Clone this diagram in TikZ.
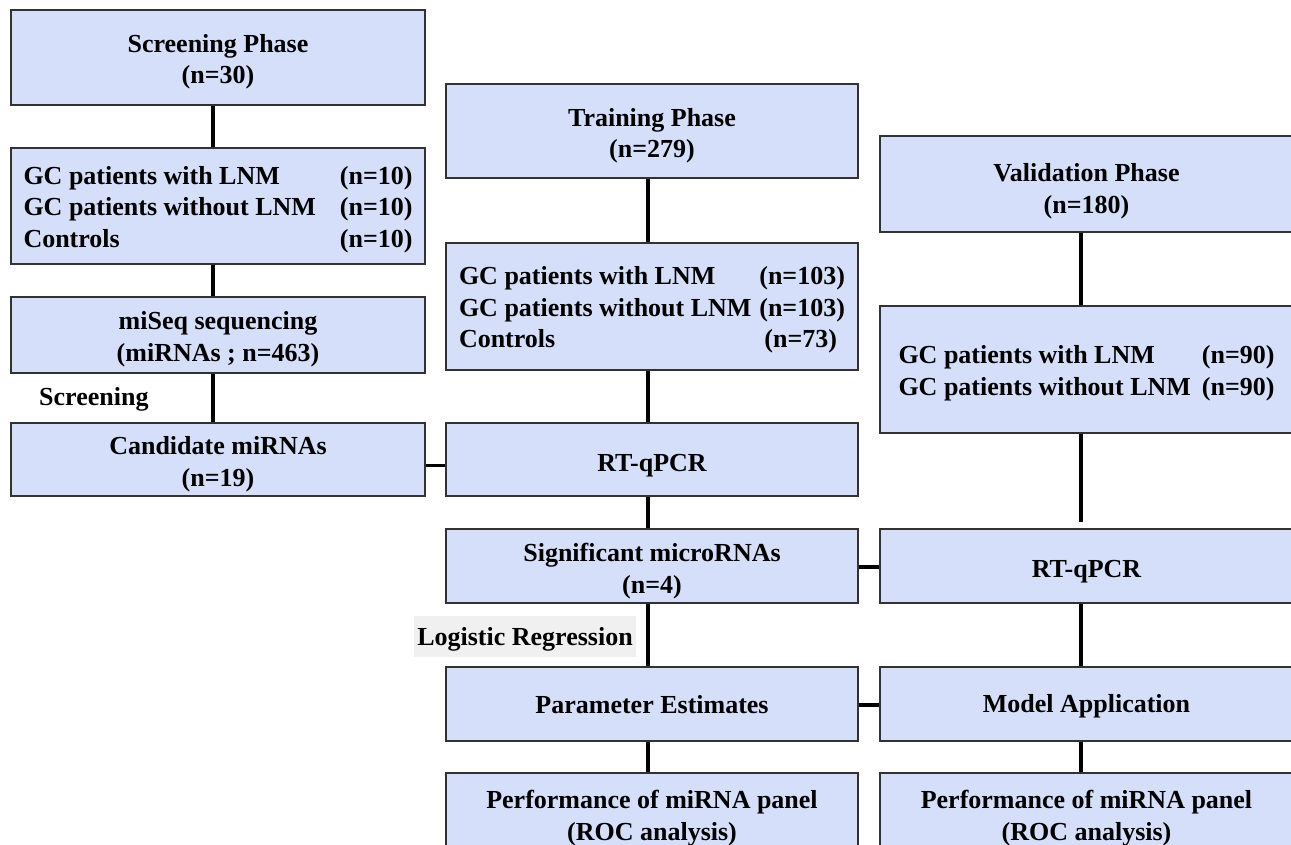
\documentclass[tikz,border=0pt]{standalone}
\usepackage{fontspec}
\setmainfont{Liberation Serif}
\definecolor{boxfill}{RGB}{213,223,250}
\definecolor{boxline}{RGB}{50,50,50}
\definecolor{labelbg}{RGB}{240,240,240}
\newcommand\lowertab[1]{\raisebox{-3.5pt}[\height][\depth]{#1}}
\newcommand\topstrut[1]{\rule{0pt}{#1}}
\begin{document}
\begin{tikzpicture}[x=1pt,y=-1pt,
  every node/.style={font=\fontsize{26}{31.5}\selectfont\bfseries},
  drop/.style={execute at begin node={\rule{0pt}{#1}}},
  stagebox/.style={draw=boxline,fill=boxfill,line width=1.3pt,inner sep=0pt,align=center,minimum width=#1},
  stagebox/.default=414pt,
  link/.style={line width=3.4pt,black},
  steplabel/.style={inner sep=0pt,anchor=west}]
\useasboundingbox (0,0) rectangle (1291,844);
\clip (0,0) rectangle (1291,844);
\fill[white] (0,0) rectangle (1291,844);
% Screening column
\node[stagebox=414pt,minimum height=95pt] (s1) at (218,57.5) {\topstrut{27pt}Screening Phase\\(n=30)};
\node[stagebox=414pt,minimum height=116pt] (s2) at (218,206) {\lowertab{\begin{tabular*}{389pt}{@{}l@{\extracolsep{\fill}}r@{}}GC patients with LNM & (n=10)\\GC patients without LNM & (n=10)\\Controls & (n=10)\end{tabular*}}};
\node[stagebox=414pt,minimum height=76pt] (s3) at (218,335) {\topstrut{27pt}miSeq sequencing\\(miRNAs ; n=463)};
\node[stagebox=414pt,minimum height=73pt] (s4) at (218,459.5) {\topstrut{27.5pt}Candidate miRNAs\\(n=19)};
\node[steplabel] (lscr) at (39,399.5) {Screening};
% Training column
\node[stagebox=412pt,minimum height=94pt] (t1) at (652,131) {\topstrut{27.5pt}Training Phase\\(n=279)};
\node[stagebox=412pt,minimum height=127pt] (t2) at (652,306.5) {\lowertab{\begin{tabular*}{386pt}{@{}l@{\extracolsep{\fill}}r@{}}GC patients with LNM & (n=103)\\GC patients without LNM & (n=103)\\Controls & (n=73)\hspace*{8pt}\end{tabular*}}};
\node[stagebox=412pt,minimum height=73pt,drop=29pt] (t3) at (652,459.5) {RT-qPCR};
\node[stagebox=412pt,minimum height=74pt] (t4) at (652,566) {\topstrut{28.5pt}Significant microRNAs\\(n=4)};
\node[fill=labelbg,inner xsep=3pt,inner ysep=0pt,minimum height=41pt,drop=24pt] (llog) at (525,636.5) {Logistic Regression};
\node[stagebox=412pt,minimum height=74pt,drop=20pt] (t5) at (652,704) {Parameter Estimates};
\node[stagebox=412pt,minimum height=86pt] (t6) at (652,816) {\topstrut{22.5pt}Performance of miRNA panel\\(ROC analysis)};
% Validation column
\node[stagebox=413pt,minimum height=96pt] (v1) at (1086.5,184) {\topstrut{33pt}Validation Phase\\(n=180)};
\node[stagebox=413pt,minimum height=127pt] (v2) at (1086.5,369.5) {\lowertab{\begin{tabular*}{376pt}{@{}l@{\extracolsep{\fill}}r@{}}GC patients with LNM & (n=90)\\GC patients without LNM & (n=90)\end{tabular*}}};
\node[stagebox=413pt,minimum height=74pt,drop=28pt] (v3) at (1086.5,566) {RT-qPCR};
\node[stagebox=413pt,minimum height=74pt,drop=23pt] (v4) at (1086.5,704) {Model Application};
\node[stagebox=413pt,minimum height=86pt] (v5) at (1086.5,816) {\topstrut{22.5pt}Performance of miRNA panel\\(ROC analysis)};
% vertical connectors
\draw[link] ([xshift=-5pt]s1.south) -- ([xshift=-5pt]s2.north);
\draw[link] ([xshift=-5pt]s2.south) -- ([xshift=-5pt]s3.north);
\draw[link] ([xshift=-5pt]s3.south) -- ([xshift=-5pt]s4.north);
\draw[link] ([xshift=-4pt]t1.south) -- ([xshift=-4pt]t2.north);
\draw[link] ([xshift=-4pt]t2.south) -- ([xshift=-4pt]t3.north);
\draw[link] ([xshift=-4pt]t3.south) -- ([xshift=-4pt]t4.north);
\draw[link] ([xshift=-4pt]t4.south) -- ([xshift=-4pt]t5.north);
\draw[link] ([xshift=-4pt]t5.south) -- ([xshift=-4pt]t6.north);
\draw[link] ([xshift=-5.5pt]v1.south) -- ([xshift=-5.5pt]v2.north);
\draw[link] ([xshift=-5.5pt]v2.south) -- ([xshift=-5.5pt,yshift=6pt]v3.north);
\draw[link] ([xshift=-5.5pt]v3.south) -- ([xshift=-5.5pt]v4.north);
\draw[link] ([xshift=-5.5pt]v4.south) -- ([xshift=-5.5pt]v5.north);
% horizontal connectors
\draw[link] ([yshift=-6pt]s4.east) -- ([yshift=-6pt]t3.west);
\draw[link] ([yshift=-1pt]t4.east) -- ([yshift=-1pt]v3.west);
\draw[link] ([yshift=-1pt]t5.east) -- ([yshift=-1pt]v4.west);
\end{tikzpicture}
\end{document}
